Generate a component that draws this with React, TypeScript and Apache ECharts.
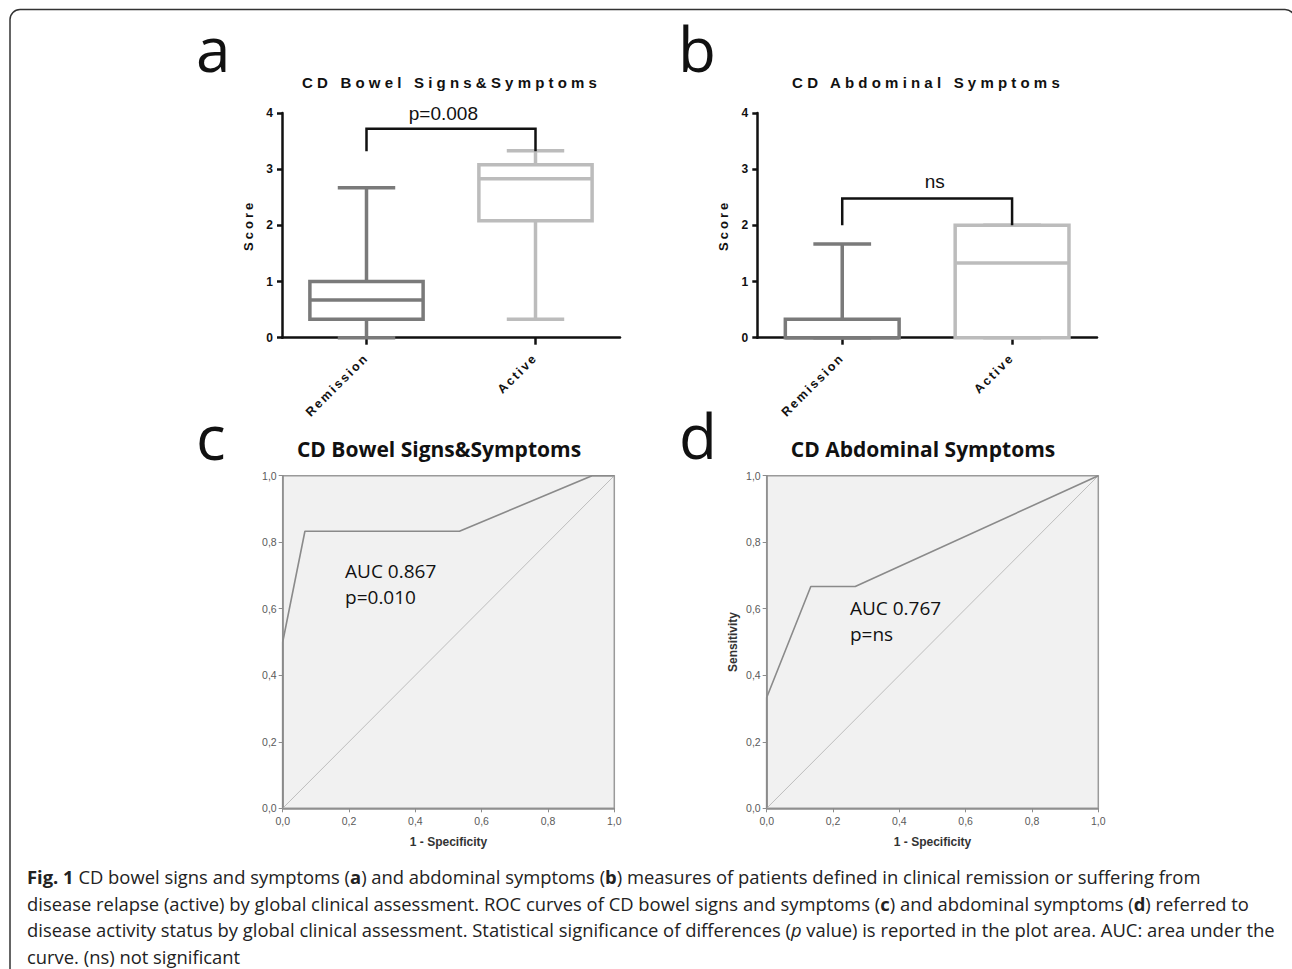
import React, { useEffect, useRef } from 'react';
import * as echarts from 'echarts';

// ---------- data ----------
const boxCategories = ['Remission', 'Active'];
// [min, Q1, median, Q3, max]
const bowelRemission = [0, 0.33, 0.67, 1.0, 2.67];
const bowelActive = [0.33, 2.08, 2.83, 3.08, 3.33];
const abdominalRemission = [0, 0, 0, 0.33, 1.67];
const abdominalActive = [0, 0, 1.33, 2.0, 2.0];
// significance brackets: [leg end, bracket top, label level]
const bowelBracket = [3.32, 3.72, 4.0];
const bowelPText = 'p=0.008';
const abdominalBracket = [2.0, 2.48, 2.78];
const abdominalPText = 'ns';

// ROC curves (1 - specificity, sensitivity)
const bowelRocX = [0, 0, 0.067, 0.533, 0.933, 1];
const bowelRocY = [0, 0.5, 0.833, 0.833, 1, 1];
const abdominalRocX = [0, 0, 0.133, 0.267, 1];
const abdominalRocY = [0, 0.333, 0.667, 0.667, 1];
const referenceX = [0, 1];
const referenceY = [0, 1];
const bowelAucText = 'AUC 0.867\np=0.010';
const abdominalAucText = 'AUC 0.767\np=ns';
const bowelAucAnchor = [0.188, 0.7526];
const abdominalAucAnchor = [0.251, 0.6425];

const captionLines = [
  '{b|Fig. 1} CD bowel signs and symptoms ({b|a}) and abdominal symptoms ({b|b}) measures of patients defined in clinical remission or suffering from',
  'disease relapse (active) by global clinical assessment. ROC curves of CD bowel signs and symptoms ({b|c}) and abdominal symptoms ({b|d}) referred to',
  'disease activity status by global clinical assessment. Statistical significance of differences ({i|p} value) is reported in the plot area. AUC: area under the',
  'curve. (ns) not significant',
];

// ---------- styles ----------
const GP = 'Liberation Sans';
const OS = 'Open Sans';
const CAP = 18.4;
const boxColors = ['#7a7a7a', '#bcbcbc'];
const letterSpacing: Record<string, number> = {
  'CD Bowel Signs&Symptoms': 4.2,
  'CD Abdominal Symptoms': 4.2,
  Score: 3,
  Remission: 2.2,
  Active: 2.2,
};

function renderBox(_params: any, api: any) {
  const idx = api.value(0);
  const mn = api.value(1);
  const q1 = api.value(2);
  const md = api.value(3);
  const q3 = api.value(4);
  const mx = api.value(5);
  const band = api.size([1, 0])[0];
  const bw = band * 0.67;
  const cw = band * 0.34;
  const x = api.coord([idx, md])[0];
  const yMin = api.coord([idx, mn])[1];
  const yQ1 = api.coord([idx, q1])[1];
  const yMd = api.coord([idx, md])[1];
  const yQ3 = api.coord([idx, q3])[1];
  const yMax = api.coord([idx, mx])[1];
  const ls = { stroke: boxColors[idx], lineWidth: 3.5, fill: 'none' };
  return {
    type: 'group',
    children: [
      { type: 'line', shape: { x1: x, y1: yQ3, x2: x, y2: yMax }, style: ls },
      { type: 'line', shape: { x1: x, y1: yQ1, x2: x, y2: yMin }, style: ls },
      { type: 'line', shape: { x1: x - cw / 2, y1: yMax, x2: x + cw / 2, y2: yMax }, style: ls },
      { type: 'line', shape: { x1: x - cw / 2, y1: yMin, x2: x + cw / 2, y2: yMin }, style: ls },
      { type: 'rect', shape: { x: x - bw / 2, y: yQ3, width: bw, height: yQ1 - yQ3 }, style: ls },
      { type: 'line', shape: { x1: x - bw / 2, y1: yMd, x2: x + bw / 2, y2: yMd }, style: ls },
    ],
  };
}

function makeBracketRenderer(label: string, labelFrac: number) {
  return (_params: any, api: any) => {
    const i0 = api.value(0);
    const i1 = api.value(1);
    const leg = api.value(2);
    const top = api.value(3);
    const ly = api.value(4);
    const a = api.coord([i0, leg]);
    const b = api.coord([i0, top]);
    const c = api.coord([i1, top]);
    const d = api.coord([i1, leg]);
    const t = api.coord([i0, ly]);
    return {
      type: 'group',
      children: [
        { type: 'polyline', shape: { points: [a, b, c, d] }, style: { stroke: '#111', lineWidth: 2.5, fill: 'none' } },
        {
          type: 'text',
          style: {
            text: label,
            x: a[0] + (d[0] - a[0]) * labelFrac,
            y: t[1],
            align: 'center',
            verticalAlign: 'middle',
            fontSize: 19,
            fontFamily: GP,
            fill: '#111',
          },
        },
      ],
    };
  };
}

function makeAucRenderer(text: string) {
  return (_params: any, api: any) => {
    const p = api.coord([api.value(0), api.value(1)]);
    return {
      type: 'text',
      style: {
        text,
        x: p[0],
        y: p[1],
        align: 'left',
        verticalAlign: 'top',
        fontSize: 19,
        lineHeight: 26,
        fontFamily: OS,
        fill: '#111',
      },
    };
  };
}

const zip = (xs: number[], ys: number[]) => xs.map((x, i) => [x, ys[i]]);
const commaFmt = (v: number) => v.toFixed(1).replace('.', ',');

function boxXAxis(gridIndex: number) {
  return {
    gridIndex,
    type: 'category',
    data: boxCategories,
    axisLine: { show: true, lineStyle: { color: '#111', width: 2.5 } },
    axisTick: { show: true, alignWithLabel: true, length: 7, lineStyle: { color: '#111', width: 2.5 } },
    axisLabel: { interval: 0, rotate: 45, margin: 18, fontSize: 12.5, fontWeight: 'bold', fontFamily: GP, color: '#111' },
    splitLine: { show: false },
  };
}
function boxYAxis(gridIndex: number) {
  return {
    gridIndex,
    type: 'value',
    min: 0,
    max: 4,
    interval: 1,
    name: 'Score',
    nameLocation: 'middle',
    nameGap: 27,
    nameTextStyle: { fontSize: 13, fontWeight: 'bold', fontFamily: GP, color: '#111' },
    axisLine: { show: true, lineStyle: { color: '#111', width: 2.5 } },
    axisTick: { show: true, length: 5, lineStyle: { color: '#111', width: 2.5 } },
    axisLabel: { margin: 9, fontSize: 12, fontWeight: 'bold', fontFamily: GP, color: '#111' },
    splitLine: { show: false },
  };
}
function rocXAxis(gridIndex: number) {
  return {
    gridIndex,
    type: 'value',
    min: 0,
    max: 1,
    interval: 0.2,
    name: '1 - Specificity',
    nameLocation: 'middle',
    nameGap: 28,
    nameTextStyle: { fontSize: 12, fontWeight: 'bold', fontFamily: GP, color: '#333' },
    axisLine: { show: true, lineStyle: { color: '#8c8c8c', width: 1.5 } },
    axisTick: { show: true, length: 4, lineStyle: { color: '#8c8c8c', width: 1 } },
    axisLabel: { margin: 7, fontSize: 10.5, fontFamily: GP, color: '#5a5a5a', formatter: commaFmt },
    splitLine: { show: false },
  };
}
function rocYAxis(gridIndex: number, name: string) {
  return {
    gridIndex,
    type: 'value',
    min: 0,
    max: 1,
    interval: 0.2,
    name,
    nameLocation: 'middle',
    nameGap: 28,
    nameTextStyle: { fontSize: 12, fontWeight: 'bold', fontFamily: GP, color: '#333' },
    axisLine: { show: true, lineStyle: { color: '#8c8c8c', width: 1.5 } },
    axisTick: { show: true, length: 4, lineStyle: { color: '#8c8c8c', width: 1 } },
    axisLabel: { margin: 6, fontSize: 10.5, fontFamily: GP, color: '#5a5a5a', formatter: commaFmt },
    splitLine: { show: false },
  };
}

const rocGrid = { show: true, backgroundColor: '#f1f1f1', borderColor: '#9a9a9a', borderWidth: 1.5 };

const option: any = {
  animation: false,
  backgroundColor: '#fff',
  grid: [
    { left: 282, top: 113, width: 338, height: 224.7 },
    { left: 757.3, top: 113, width: 339.7, height: 224.7 },
    { left: 282.7, top: 475.7, width: 331.6, height: 332.6, ...rocGrid },
    { left: 766.7, top: 475.7, width: 331.6, height: 332.6, ...rocGrid },
  ],
  xAxis: [boxXAxis(0), boxXAxis(1), rocXAxis(2), rocXAxis(3)],
  yAxis: [boxYAxis(0), boxYAxis(1), rocYAxis(2, ''), rocYAxis(3, 'Sensitivity')],
  series: [
    {
      type: 'custom', xAxisIndex: 0, yAxisIndex: 0, renderItem: renderBox, clip: false, z: 3,
      encode: { x: 0, y: [1, 2, 3, 4, 5] },
      data: [[0, ...bowelRemission], [1, ...bowelActive]],
    },
    {
      type: 'custom', xAxisIndex: 1, yAxisIndex: 1, renderItem: renderBox, clip: false, z: 3,
      encode: { x: 0, y: [1, 2, 3, 4, 5] },
      data: [[0, ...abdominalRemission], [1, ...abdominalActive]],
    },
    {
      type: 'custom', xAxisIndex: 0, yAxisIndex: 0, renderItem: makeBracketRenderer(bowelPText, 0.455), clip: false, z: 3,
      encode: { x: [0, 1], y: [2, 3, 4] },
      data: [[0, 1, ...bowelBracket]],
    },
    {
      type: 'custom', xAxisIndex: 1, yAxisIndex: 1, renderItem: makeBracketRenderer(abdominalPText, 0.545), clip: false, z: 3,
      encode: { x: [0, 1], y: [2, 3, 4] },
      data: [[0, 1, ...abdominalBracket]],
    },
    {
      type: 'line', xAxisIndex: 2, yAxisIndex: 2, data: zip(referenceX, referenceY), symbol: 'none', silent: true,
      lineStyle: { color: '#bdbdbd', width: 1 },
    },
    {
      type: 'line', xAxisIndex: 2, yAxisIndex: 2, data: zip(bowelRocX, bowelRocY), symbol: 'none', silent: true,
      lineStyle: { color: '#8a8a8a', width: 1.6 },
    },
    {
      type: 'line', xAxisIndex: 3, yAxisIndex: 3, data: zip(referenceX, referenceY), symbol: 'none', silent: true,
      lineStyle: { color: '#bdbdbd', width: 1 },
    },
    {
      type: 'line', xAxisIndex: 3, yAxisIndex: 3, data: zip(abdominalRocX, abdominalRocY), symbol: 'none', silent: true,
      lineStyle: { color: '#8a8a8a', width: 1.6 },
    },
    {
      type: 'custom', xAxisIndex: 2, yAxisIndex: 2, renderItem: makeAucRenderer(bowelAucText), clip: false, z: 4,
      encode: { x: 0, y: 1 }, data: [bowelAucAnchor],
    },
    {
      type: 'custom', xAxisIndex: 3, yAxisIndex: 3, renderItem: makeAucRenderer(abdominalAucText), clip: false, z: 4,
      encode: { x: 0, y: 1 }, data: [abdominalAucAnchor],
    },
  ],
  graphic: [
    {
      type: 'rect', silent: true, z: 0,
      shape: { x: 10, y: 9.5, width: 1285, height: 1100, r: 10 },
      style: { fill: 'none', stroke: '#333', lineWidth: 1.5 },
    },
    { type: 'text', x: 196, y: 48, silent: true, style: { text: 'a', fontSize: 62, fontFamily: OS, fill: '#111', align: 'left', verticalAlign: 'middle' } },
    { type: 'text', x: 678, y: 48, silent: true, style: { text: 'b', fontSize: 62, fontFamily: OS, fill: '#111', align: 'left', verticalAlign: 'middle' } },
    { type: 'text', x: 196, y: 436, silent: true, style: { text: 'c', fontSize: 62, fontFamily: OS, fill: '#111', align: 'left', verticalAlign: 'middle' } },
    { type: 'text', x: 679, y: 435, silent: true, style: { text: 'd', fontSize: 62, fontFamily: OS, fill: '#111', align: 'left', verticalAlign: 'middle' } },
    { type: 'text', x: 451.6, y: 82, silent: true, style: { text: 'CD Bowel Signs&Symptoms', fontSize: 15, fontWeight: 'bold', fontFamily: GP, fill: '#111', align: 'center', verticalAlign: 'middle' } },
    { type: 'text', x: 928, y: 82, silent: true, style: { text: 'CD Abdominal Symptoms', fontSize: 15, fontWeight: 'bold', fontFamily: GP, fill: '#111', align: 'center', verticalAlign: 'middle' } },
    { type: 'text', x: 439, y: 449, silent: true, style: { text: 'CD Bowel Signs&Symptoms', fontSize: 21, fontWeight: 'bold', fontFamily: OS, fill: '#111', align: 'center', verticalAlign: 'middle' } },
    { type: 'text', x: 923, y: 449, silent: true, style: { text: 'CD Abdominal Symptoms', fontSize: 21, fontWeight: 'bold', fontFamily: OS, fill: '#111', align: 'center', verticalAlign: 'middle' } },
    ...captionLines.map((line, i) => ({
      type: 'text',
      x: 27,
      y: 876.5 + i * 26.7,
      silent: true,
      style: {
        text: line,
        fontSize: CAP,
        fontFamily: OS,
        fill: '#222',
        align: 'left',
        verticalAlign: 'middle',
        rich: {
          b: { fontSize: CAP, fontFamily: OS, fontWeight: 'bold', fill: '#222' },
          i: { fontSize: CAP, fontFamily: OS, fontStyle: 'italic', fill: '#222' },
        },
      },
    })),
  ],
};

function applySpacing(root: HTMLElement) {
  root.querySelectorAll('text').forEach((t) => {
    const s = letterSpacing[(t.textContent || '').trim()];
    if (s != null && t.outerHTML.includes('Liberation')) {
      t.setAttribute('letter-spacing', String(s));
    }
  });
}

export default function App() {
  const ref = useRef<HTMLDivElement>(null);
  useEffect(() => {
    const el = ref.current!;
    const chart = echarts.init(el, null, { renderer: 'svg' });
    chart.setOption(option);
    applySpacing(el);
    const timer = setTimeout(() => applySpacing(el), 60);
    return () => {
      clearTimeout(timer);
      chart.dispose();
    };
  }, []);
  return (
    <div
      ref={ref}
      style={{ position: 'absolute', left: 0, top: 0, width: 1292, height: 969, background: '#fff' }}
    />
  );
}
